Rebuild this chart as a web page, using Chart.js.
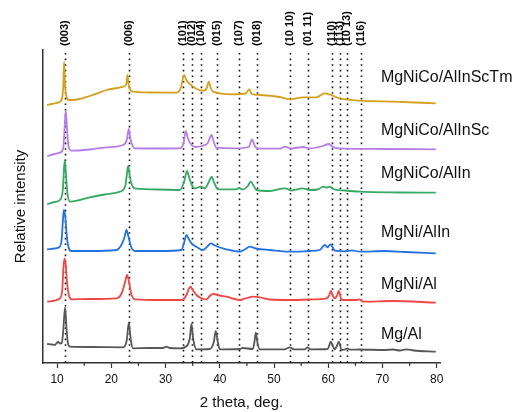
<!DOCTYPE html>
<html>
<head>
<meta charset="utf-8">
<script src="https://cdn.jsdelivr.net/npm/chart.js@4.4.1/dist/chart.umd.min.js"></script>
<style>
  body { margin: 0; background: #fff; }
</style>
</head>
<body>
<canvas id="xrd" width="512" height="412"></canvas>
<script>
// XRD patterns, [2theta, relative intensity] (curves already stacked)
const mgAl = [[8.16,19],[9.02,18.5],[9.58,18],[9.94,20],[10.18,21.3],[10.5,19.5],[10.87,20],[11.14,33],[11.47,55.7],[11.75,33],[11.97,21],[12.34,16.3],[16.03,16],[22.17,15.7],[22.85,23],[23.22,40.3],[23.59,23],[24.01,14.7],[27.09,15],[29.49,15],[30.17,16.3],[30.78,15],[32.62,14.7],[33.91,17],[34.47,25],[34.78,39],[35.07,25],[35.7,13.7],[38.15,14],[38.89,21],[39.26,32],[39.63,21],[40.0,13.7],[43.68,14],[44.24,15],[46.08,14],[46.36,20],[46.63,30.3],[46.95,20],[47.37,13.7],[51.98,13.7],[52.9,15.7],[53.64,13.7],[55.67,13.7],[56.17,15.7],[56.77,13.7],[59.9,14],[60.47,21.3],[60.84,17],[61.2,13.7],[61.58,17],[61.95,21.3],[62.45,13],[63.04,13.5],[63.59,14.7],[63.96,13.3],[65.81,13.5],[70.42,13],[71.95,13.5],[73.19,12.5],[74.42,13.7],[75.76,12.5],[79.82,11.3]];
const mgNiAl = [[8.16,61.3],[9.58,62.5],[10.5,64.7],[10.96,73],[11.14,93],[11.36,104.7],[11.6,98],[11.84,80],[12.16,68],[12.65,63.7],[16.03,64],[20.95,64.7],[21.93,70],[22.48,80],[22.91,88],[23.22,82],[23.68,69],[24.33,63.7],[28.93,63],[32.93,63],[33.86,68],[34.28,74],[34.59,76.3],[35.02,73],[35.7,68],[36.49,65],[37.54,63.7],[38.15,67],[38.76,69],[40.0,67.5],[41.23,66.3],[43.68,63],[44.97,65],[46.14,66.3],[47.37,65.7],[49.21,63.5],[53.51,63],[56.59,63.5],[59.67,64.7],[60.1,67],[60.47,72],[60.84,67],[61.21,64.7],[61.58,67],[61.95,72],[62.32,65],[62.69,63],[65.27,63],[65.68,63.7],[66.42,61.3],[71.95,62],[79.82,60.3]];
const mgNiAlIn = [[8.16,113.7],[9.58,114.5],[10.5,116.3],[10.87,125],[11.05,141],[11.24,153],[11.47,148],[11.7,133],[11.97,119],[12.65,112],[16.03,112],[20.95,113],[21.74,117],[22.39,125],[22.79,133],[23.13,127],[23.59,117],[24.33,112],[28.93,112],[32.93,113],[33.45,121],[33.86,128],[34.28,124],[34.78,119.7],[35.76,116],[36.92,113],[37.78,117],[38.34,119.7],[39.07,117.5],[41.23,113.7],[43.68,111.3],[44.61,113.5],[45.53,116.3],[46.63,114.5],[49.21,113],[53.45,111.3],[56.59,112],[58.43,113],[59.35,118],[59.85,115.7],[60.4,118.7],[60.83,115.5],[61.2,112.3],[63.04,111.7],[64.28,112.7],[65.81,111.3],[70.42,112],[74.11,111],[79.82,109.7]];
const mgNiCoAlIn = [[8.16,159],[9.58,161],[10.5,163],[11.05,173],[11.24,191],[11.42,203],[11.6,191],[11.88,171],[12.34,161.3],[14.19,163],[16.03,165.7],[18.8,168.5],[21.56,171.3],[22.57,177],[22.85,188],[23.09,197],[23.37,188],[23.68,180],[24.33,174.7],[28.93,173.5],[32.62,173],[33.36,180],[33.97,192],[34.37,185],[34.93,177],[35.39,174.7],[36.55,176.3],[37.23,174.7],[37.97,181],[38.47,186.3],[38.98,180],[39.68,173.7],[43.08,173.7],[43.5,175],[44.24,173.5],[45.16,177],[45.71,181.3],[46.27,177],[46.76,173],[49.21,172],[51.98,174.7],[53.27,172.5],[55.24,174.7],[56.59,173],[58.06,173.5],[59.04,176.3],[59.72,175.5],[60.28,176.3],[60.89,174],[63.04,172.5],[65.81,171.3],[73.19,170.5],[79.82,170.3]];
const mgNiCoAlInSc = [[8.16,207],[9.58,209],[10.5,210.3],[11.14,215],[11.42,238],[11.6,252.3],[11.79,238],[12.06,218],[12.65,212.3],[16.03,213.5],[19.11,215.7],[22.17,218],[22.85,223],[23.22,234],[23.5,225],[23.86,218],[24.33,214.7],[28.93,214.5],[32.62,214.7],[33.27,219],[33.73,232],[34.1,225],[34.78,218],[35.57,216],[36.62,217],[37.78,220],[38.47,228],[38.89,221],[39.39,215.3],[42.76,214.7],[45.34,216],[45.95,223.7],[46.45,217],[47.0,214.7],[51.06,214.3],[51.98,216.3],[53.27,214.5],[55.3,216],[56.6,214.7],[58.99,217],[60.1,219],[60.84,216],[62.12,214.7],[69.5,214],[79.82,213.7]];
const mgNiCoAlInScTm = [[8.16,258],[9.02,259],[10.5,261.3],[10.96,266],[11.14,278],[11.29,301],[11.46,278],[11.7,267],[12.16,263],[12.95,263],[16.03,267],[19.11,273],[22.17,276.3],[22.76,279],[22.98,288],[23.19,279],[23.5,273],[24.01,271.3],[27.09,270.5],[32.01,270.3],[32.81,275],[33.41,288],[33.82,283],[35.07,276.3],[36.92,272.3],[37.6,275],[37.97,281.3],[38.34,275],[38.76,271.3],[42.39,268.7],[44.79,269.5],[45.4,273.7],[45.9,269],[47.37,268],[51.06,266],[52.9,263.7],[55.35,265.7],[57.82,265.7],[59.35,269.7],[62.12,264.7],[65.81,262.3],[71.95,261.3],[79.82,259.7]];

const sampleNames = ['Mg/Al', 'MgNi/Al', 'MgNi/AlIn', 'MgNiCo/AlIn', 'MgNiCo/AlInSc', 'MgNiCo/AlInScTm'];
const sampleData = [mgAl, mgNiAl, mgNiAlIn, mgNiCoAlIn, mgNiCoAlInSc, mgNiCoAlInScTm];

// reflections marked with dotted lines
const hklPos = [11.4, 23.3, 33.25, 34.9, 36.6, 39.4, 43.6, 46.8, 52.9, 56.3, 60.7, 62.1, 63.5, 66.0];
const hklLabels = ['(003)', '(006)', '(101)', '(012)', '(104)', '(015)', '(107)', '(018)', '(10 10)', '(01 11)', '(110)', '(113)', '(10 13)', '(116)'];

const xTicks = [10, 20, 30, 40, 50, 60, 70, 80];
const xMinorTicks = [15, 25, 35, 45, 55, 65, 75];

const colors = ['#575757', '#EF4646', '#2371E2', '#36A964', '#B67DE8', '#D4A11C'];
const nameAnchor = { x: 69.7, y: [28, 78.7, 130.3, 189.7, 232.3, 285.7] };
const FONT = '"Liberation Sans", Arial, sans-serif';

const xrdExtras = {
    id: 'xrdExtras',
    beforeDatasetsDraw(chart) {
        const ctx = chart.ctx;
        const xs = chart.scales.x;
        const area = chart.chartArea;
        ctx.save();
        // dotted reference lines
        ctx.strokeStyle = '#111';
        ctx.lineWidth = 1.6;
        ctx.setLineDash([1.6, 4]);
        hklPos.forEach(p => {
            const px = Math.round(xs.getPixelForValue(p)) + 0.5;
            ctx.beginPath();
            ctx.moveTo(px, 53);
            ctx.lineTo(px, area.bottom);
            ctx.stroke();
        });
        ctx.setLineDash([]);
        // minor ticks
        ctx.strokeStyle = '#333';
        ctx.lineWidth = 1.2;
        xMinorTicks.forEach(v => {
            const px = xs.getPixelForValue(v);
            ctx.beginPath();
            ctx.moveTo(px, area.bottom);
            ctx.lineTo(px, area.bottom + 3);
            ctx.stroke();
        });
        ctx.restore();
    },
    afterDraw(chart) {
        const ctx = chart.ctx;
        const xs = chart.scales.x;
        const ys = chart.scales.y;
        ctx.save();
        // hkl labels, rotated
        ctx.fillStyle = '#000';
        ctx.font = 'bold 11px ' + FONT;
        ctx.textAlign = 'left';
        ctx.textBaseline = 'middle';
        hklPos.forEach((p, i) => {
            ctx.save();
            ctx.translate(xs.getPixelForValue(p), 46);
            ctx.rotate(-Math.PI / 2);
            ctx.fillText(hklLabels[i], 0, 0);
            ctx.restore();
        });
        // sample names
        ctx.font = '16px ' + FONT;
        ctx.fillStyle = '#111';
        sampleNames.forEach((n, i) => {
            ctx.fillText(n, xs.getPixelForValue(nameAnchor.x), ys.getPixelForValue(nameAnchor.y[i]));
        });
        ctx.restore();
    }
};

const ctx = document.getElementById('xrd').getContext('2d');
const xrdChart = new Chart(ctx, {
    type: 'line',
    data: {
        datasets: sampleData.map((d, i) => ({
            label: sampleNames[i],
            data: d.map(p => ({ x: p[0], y: p[1] })),
            borderColor: colors[i],
            borderWidth: 1.8,
            pointRadius: 0,
            cubicInterpolationMode: 'monotone',
            fill: false
        }))
    },
    options: {
        responsive: false,
        animation: false,
        devicePixelRatio: 1,
        layout: { padding: { top: 50, right: 72, left: 0, bottom: 0 } },
        plugins: {
            legend: { display: false },
            tooltip: { enabled: false }
        },
        scales: {
            x: {
                type: 'linear',
                min: 7.4,
                max: 80.6,
                afterBuildTicks: scale => { scale.ticks = xTicks.map(v => ({ value: v })); },
                afterFit: scale => { scale.height = 49; },
                ticks: { color: '#111', font: { size: 12, family: FONT }, padding: 4, maxRotation: 0 },
                grid: { drawOnChartArea: false, tickLength: 5, tickColor: '#333', tickWidth: 1.2 },
                border: { color: '#333', width: 1.5 },
                title: { display: true, text: '2 theta, deg.', color: '#111', font: { size: 15, family: FONT }, padding: { top: 0, bottom: 0 } }
            },
            y: {
                min: 0,
                max: 313,
                afterFit: scale => { scale.width = 43; },
                ticks: { display: false },
                grid: { display: false },
                border: { color: '#333', width: 1.5 },
                title: { display: true, text: 'Relative intensity', color: '#111', font: { size: 15, family: FONT }, padding: { top: 12, bottom: 0 } }
            }
        }
    },
    plugins: [xrdExtras]
});
</script>
</body>
</html>
